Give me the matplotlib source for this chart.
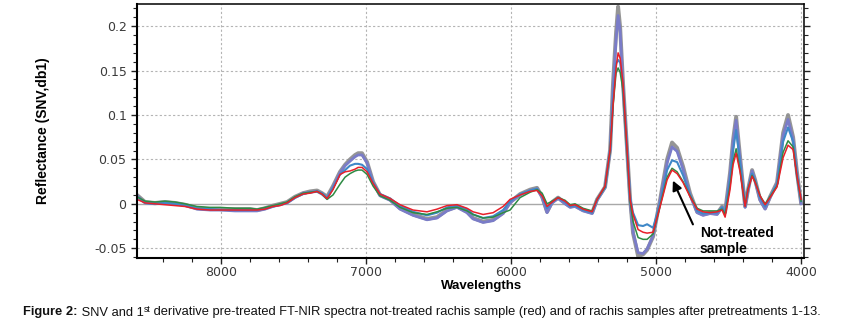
"""SNV + 1st derivative FT-NIR spectra of rachis samples (Figure 2)."""

import matplotlib

matplotlib.use("Agg")
import matplotlib.pyplot as plt
from matplotlib.ticker import MultipleLocator, FuncFormatter

wavenumbers = [8580, 8524, 8456, 8387, 8318, 8249, 8166, 8076, 8007, 7904,
               7800, 7752, 7697, 7642, 7593, 7545, 7490, 7435, 7386, 7338,
               7304, 7269, 7228, 7180, 7145, 7111, 7076, 7055, 7028, 6993,
               6952, 6904, 6835, 6766, 6676, 6580, 6511, 6442, 6373, 6304,
               6262, 6193, 6124, 6055, 6007, 5938, 5869, 5821, 5786, 5752,
               5717, 5676, 5628, 5593, 5559, 5504, 5441, 5407, 5352, 5317,
               5297, 5276, 5262, 5248, 5228, 5200, 5179, 5159, 5124, 5090,
               5062, 5021, 4972, 4924, 4890, 4855, 4814, 4766, 4717, 4676,
               4628, 4579, 4545, 4524, 4490, 4469, 4448, 4421, 4386, 4366,
               4338, 4317, 4283, 4248, 4214, 4166, 4124, 4090, 4055, 4028,
               4000]

# treated samples (upper envelope, grey)
grey_sample = [0.010, 0.002, 0.001, 0.002, 0.001, -0.001, -0.005, -0.006, -0.006, -0.006,
               -0.006, -0.007, -0.005, -0.002, 0.000, 0.002, 0.008, 0.012, 0.014, 0.015,
               0.012, 0.008, 0.020, 0.036, 0.044, 0.050, 0.055, 0.057, 0.057, 0.047,
               0.025, 0.010, 0.005, -0.005, -0.012, -0.017, -0.015, -0.007, -0.003, -0.009,
               -0.016, -0.020, -0.018, -0.010, 0.002, 0.011, 0.016, 0.018, 0.008, -0.009,
               0.002, 0.007, 0.001, -0.003, -0.002, -0.007, -0.010, 0.005, 0.019, 0.061,
               0.136, 0.193, 0.222, 0.199, 0.136, 0.061, 0.005, -0.033, -0.059, -0.057,
               -0.052, -0.037, 0.005, 0.050, 0.069, 0.063, 0.042, 0.012, -0.009, -0.012,
               -0.010, -0.011, -0.003, -0.009, 0.035, 0.072, 0.098, 0.053, -0.003, 0.016,
               0.038, 0.027, 0.005, -0.005, 0.008, 0.024, 0.080, 0.100, 0.075, 0.035,
               0.001]

purple_sample = [0.009, 0.001, 0.000, 0.001, 0.000, -0.002, -0.006, -0.007, -0.007, -0.008,
                 -0.008, -0.008, -0.006, -0.003, -0.001, 0.001, 0.007, 0.012, 0.013, 0.014,
                 0.011, 0.006, 0.019, 0.035, 0.043, 0.048, 0.053, 0.055, 0.055, 0.046,
                 0.024, 0.009, 0.004, -0.006, -0.013, -0.018, -0.016, -0.008, -0.004, -0.010,
                 -0.017, -0.021, -0.019, -0.011, 0.001, 0.010, 0.015, 0.017, 0.007, -0.010,
                 0.001, 0.006, 0.000, -0.004, -0.003, -0.008, -0.011, 0.004, 0.018, 0.060,
                 0.128, 0.185, 0.212, 0.195, 0.131, 0.059, 0.003, -0.032, -0.055, -0.056,
                 -0.051, -0.036, 0.004, 0.046, 0.064, 0.059, 0.039, 0.010, -0.010, -0.013,
                 -0.011, -0.012, -0.004, -0.010, 0.033, 0.069, 0.094, 0.050, -0.004, 0.015,
                 0.037, 0.026, 0.004, -0.006, 0.007, 0.023, 0.077, 0.095, 0.072, 0.033,
                 0.000]

blue_sample = [0.008, 0.001, 0.000, 0.001, 0.000, -0.002, -0.005, -0.006, -0.007, -0.007,
               -0.007, -0.007, -0.005, -0.003, -0.001, 0.001, 0.007, 0.011, 0.013, 0.014,
               0.012, 0.007, 0.018, 0.033, 0.038, 0.043, 0.045, 0.045, 0.044, 0.039,
               0.024, 0.011, 0.006, -0.002, -0.009, -0.013, -0.010, -0.004, -0.002, -0.006,
               -0.012, -0.016, -0.014, -0.007, 0.003, 0.011, 0.015, 0.017, 0.009, -0.005,
               0.002, 0.007, 0.002, -0.003, -0.002, -0.007, -0.010, 0.005, 0.019, 0.061,
               0.117, 0.158, 0.162, 0.159, 0.134, 0.061, 0.007, -0.010, -0.024, -0.025,
               -0.023, -0.027, 0.000, 0.038, 0.049, 0.047, 0.032, 0.010, -0.008, -0.011,
               -0.010, -0.010, -0.004, -0.011, 0.027, 0.060, 0.083, 0.047, -0.003, 0.016,
               0.034, 0.026, 0.007, -0.003, 0.008, 0.022, 0.070, 0.086, 0.070, 0.033,
               0.003]

green_sample = [0.008, 0.003, 0.002, 0.003, 0.002, 0.000, -0.003, -0.004, -0.004, -0.005,
                -0.005, -0.006, -0.004, -0.002, 0.000, 0.002, 0.008, 0.012, 0.013, 0.014,
                0.011, 0.005, 0.010, 0.022, 0.030, 0.034, 0.037, 0.038, 0.038, 0.033,
                0.020, 0.009, 0.004, -0.004, -0.010, -0.012, -0.009, -0.005, -0.004, -0.008,
                -0.012, -0.016, -0.015, -0.010, -0.007, 0.007, 0.013, 0.016, 0.012, 0.000,
                0.003, 0.007, 0.004, -0.001, 0.000, -0.005, -0.008, 0.005, 0.019, 0.060,
                0.110, 0.147, 0.153, 0.148, 0.128, 0.058, 0.002, -0.020, -0.038, -0.040,
                -0.040, -0.034, -0.002, 0.030, 0.040, 0.036, 0.025, 0.009, -0.005, -0.008,
                -0.008, -0.008, -0.006, -0.012, 0.020, 0.048, 0.062, 0.038, -0.002, 0.017,
                0.032, 0.025, 0.009, 0.000, 0.008, 0.020, 0.058, 0.071, 0.064, 0.030,
                0.003]

# not-treated rachis sample (red)
red_sample = [0.005, 0.001, 0.000, -0.001, -0.002, -0.003, -0.006, -0.007, -0.007, -0.007,
              -0.007, -0.007, -0.006, -0.003, -0.002, 0.001, 0.007, 0.011, 0.012, 0.014,
              0.011, 0.006, 0.016, 0.033, 0.036, 0.037, 0.039, 0.041, 0.041, 0.036,
              0.023, 0.011, 0.006, -0.001, -0.007, -0.009, -0.006, -0.002, -0.001, -0.005,
              -0.009, -0.012, -0.010, -0.003, 0.005, 0.010, 0.014, 0.015, 0.009, -0.003,
              0.002, 0.007, 0.003, -0.002, -0.001, -0.006, -0.009, 0.005, 0.020, 0.061,
              0.111, 0.153, 0.170, 0.164, 0.136, 0.061, 0.005, -0.012, -0.029, -0.032,
              -0.033, -0.032, -0.003, 0.027, 0.038, 0.034, 0.024, 0.008, -0.006, -0.009,
              -0.010, -0.009, -0.007, -0.015, 0.016, 0.044, 0.057, 0.036, -0.003, 0.016,
              0.031, 0.024, 0.009, -0.001, 0.007, 0.019, 0.052, 0.066, 0.061, 0.031,
              0.005]

x_ticks = [8000, 7000, 6000, 5000, 4000]
y_ticks = [-0.05, 0, 0.05, 0.1, 0.15, 0.2]

fig = plt.figure(figsize=(8.44, 3.22), dpi=100)
ax = fig.add_axes([0.1623, 0.1988, 0.7903, 0.7888])

# grid first so the spectra sit on top
for xv in x_ticks:
    ax.axvline(xv, color="#b4b4b4", lw=0.8, ls=(0, (2, 2)), zorder=0)
for yv in y_ticks:
    if yv == 0:
        ax.axhline(0, color="#a8a8a8", lw=1.0, zorder=0)
    else:
        ax.axhline(yv, color="#b4b4b4", lw=0.8, ls=(0, (2, 2)), zorder=0)

ax.plot(wavenumbers, grey_sample, color="#8a8a8a", lw=2.8, alpha=0.9)
ax.plot(wavenumbers, purple_sample, color="#7a7cc8", lw=2.0)
ax.plot(wavenumbers, blue_sample, color="#3f88c8", lw=1.5)
ax.plot(wavenumbers, green_sample, color="#2e8b44", lw=1.1)
ax.plot(wavenumbers, red_sample, color="#e8202a", lw=1.1)

ax.set_xlim(8580, 3980)
ax.set_ylim(-0.061, 0.225)

ax.xaxis.set_major_locator(MultipleLocator(1000))
ax.xaxis.set_minor_locator(MultipleLocator(200))
ax.yaxis.set_major_locator(MultipleLocator(0.05))
ax.yaxis.set_minor_locator(MultipleLocator(0.01))
ax.yaxis.set_major_formatter(FuncFormatter(lambda v, p: "%g" % round(v, 3)))
ax.tick_params(which="both", labelsize=9, labelcolor="#3a3a3a", color="#222222")
ax.tick_params(which="major", length=4, width=1)
ax.tick_params(which="minor", length=3, width=0.8)
ax.tick_params(axis="x", which="major", pad=2)
ax.tick_params(axis="y", which="both", right=True, direction="out")

for side in ["left", "bottom"]:
    ax.spines[side].set_linewidth(1.5)
for side in ["top", "right"]:
    ax.spines[side].set_linewidth(1.1)

ax.set_ylabel("Reflectance (SNV,db1)", fontsize=10, fontweight="bold",
              family="Liberation Sans", labelpad=32)
ax.set_xlabel("Wavelengths", fontsize=9.5, fontweight="bold",
              family="Liberation Sans")
ax.xaxis.set_label_coords(0.516, -0.112)
ax.xaxis.label.set_va("center")

# arrow and label for the not-treated sample
ax.annotate("", xy=(4892, 0.029), xytext=(4738, -0.026),
            arrowprops=dict(arrowstyle="-|>", color="black", lw=1.5,
                            mutation_scale=14))
ax.text(4697, -0.0255, "Not-treated\nsample", fontsize=10, fontweight="bold",
        family="Liberation Sans", va="top", ha="left", linespacing=1.15)

# caption, built piece by piece for the bold prefix and superscript
renderer = fig.canvas.get_renderer()
cx, cy = 23 / 844, 1 - 315.5 / 322
pieces = [
    ("Figure 2:", dict(fontsize=9.25, fontweight="bold"), 0),
    (" SNV and 1", dict(fontsize=9.25), 0),
    ("st", dict(fontsize=6.3), 4),
    (" derivative pre-treated FT-NIR spectra not-treated rachis sample (red) "
     "and of rachis samples after pretreatments 1-13.", dict(fontsize=9.25), 0),
]
for txt, kw, rise in pieces:
    t = fig.text(cx, cy + rise / 322, txt, va="baseline", ha="left",
                 family="Liberation Sans", color="#111111", **kw)
    cx += t.get_window_extent(renderer).width / fig.bbox.width

fig.savefig("out.png", dpi=100)
